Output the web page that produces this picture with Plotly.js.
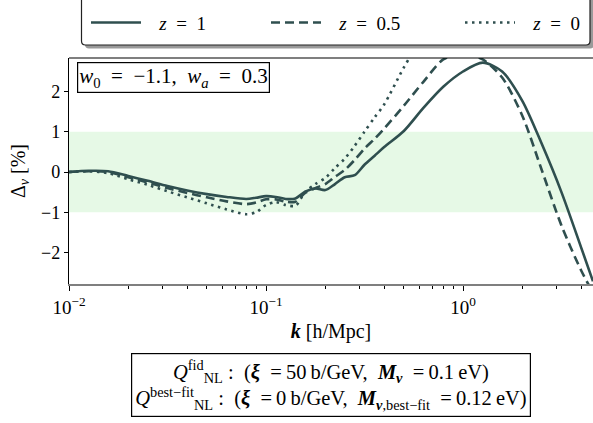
<!DOCTYPE html>
<html>
<head>
<meta charset="utf-8">
<script src="https://cdn.plot.ly/plotly-3.0.1.min.js"></script>
<style>html,body{margin:0;padding:0;background:#fff}#chart{width:593px;height:423px}</style>
</head>
<body>
<div id="chart"></div>
<script>
// ---- data ----
const k = [0.01, 0.0126, 0.0158, 0.02, 0.0251, 0.0316, 0.0398, 0.0501, 0.0631, 0.0794, 0.0891,
           0.1, 0.112, 0.126, 0.141, 0.158, 0.178, 0.2, 0.224, 0.251, 0.282, 0.316, 0.355, 0.398,
           0.501, 0.631, 0.794, 1.0, 1.26, 1.58, 2.0, 2.51, 3.16, 3.98, 4.57];
const delta_z1 = [0.0, 0.03, 0.02, -0.1, -0.22, -0.35, -0.46, -0.55, -0.62, -0.67, -0.64,
                  -0.6, -0.62, -0.67, -0.66, -0.49, -0.41, -0.45, -0.3, -0.13, -0.08, 0.18, 0.4, 0.62,
                  1.02, 1.6, 2.12, 2.5, 2.72, 2.5, 1.77, 0.7, -0.5, -1.88, -2.72];
const delta_z05 = [0.0, 0.02, 0.0, -0.13, -0.26, -0.4, -0.52, -0.63, -0.73, -0.8, -0.76,
                   -0.68, -0.68, -0.74, -0.74, -0.52, -0.4, -0.3, -0.12, 0.05, 0.3, 0.58, 0.82, 1.08,
                   1.65, 2.25, 2.8, 2.95, 2.8, 2.35, 1.4, 0.05, -1.33, -2.45, -3.0];
const k_z0 = k.slice(0, 27);
const delta_z0 = [0.0, 0.02, -0.03, -0.18, -0.32, -0.48, -0.63, -0.78, -0.93, -1.05, -1.0,
                  -0.82, -0.75, -0.82, -0.84, -0.5, -0.3, -0.15, 0.1, 0.33, 0.65, 1.0, 1.35, 1.68,
                  2.6, 3.4, 4.0];
const seriesNames = ['<i>z</i>\u2002=\u20021', '<i>z</i>\u2002=\u20020.5', '<i>z</i>\u2002=\u20020'];
const xTickVals = [0.01, 0.1, 1];
const xTickText = ['10<sup>−2</sup>', '10<sup>−1</sup>', '10<sup>0</sup>'];
const yTickVals = [-2, -1, 0, 1, 2];
const yTickText = ['−2', '−1', '0', '1', '2'];
const bandLow = -1, bandHigh = 1;

// ---- layout helpers (pixel -> paper) ----
const W = 593, H = 423, L = 69, T = 58, B = 284;
const PW = W - L, PH = B - T;
const px = x => (x - L) / PW;
const py = y => (B - y) / PH;
function roundRect(x0, y0, x1, y1, r) {
  const rx = r / PW, ry = r / PH;
  const a = px(x0), b = px(x1), c = py(y1), d = py(y0); // c bottom, d top
  return `M${a + rx},${c} L${b - rx},${c} Q${b},${c} ${b},${c + ry} L${b},${d - ry} Q${b},${d} ${b - rx},${d} ` +
         `L${a + rx},${d} Q${a},${d} ${a},${d - ry} L${a},${c + ry} Q${a},${c} ${a + rx},${c} Z`;
}

const col = '#2f4f4f';
const FONT = 'Liberation Serif, serif';
const GAP = '\u2002\u2009';

const traces = [
  {x: k, y: delta_z1, name: GAP + seriesNames[0], mode: 'lines', line: {color: col, width: 2.6, shape: 'spline', smoothing: 0.8}, legend: 'legend'},
  {x: k, y: delta_z05, name: GAP + seriesNames[1], mode: 'lines', line: {color: col, width: 2.6, dash: '9px,5px', shape: 'spline', smoothing: 0.8}, legend: 'legend2'},
  {x: k_z0, y: delta_z0, name: GAP + seriesNames[2], mode: 'lines', line: {color: col, width: 2.6, dash: '2.5px,4.5px', shape: 'spline', smoothing: 0.8}, legend: 'legend3'}
];

function leg(xpx) {
  return {orientation: 'h', xref: 'container', yref: 'container', x: xpx / W, y: 1 - 22.7 / H,
          xanchor: 'left', yanchor: 'middle', bgcolor: 'rgba(0,0,0,0)', borderwidth: 0,
          itemwidth: 50, font: {family: FONT, size: 19, color: '#000'}};
}

const layout = {
  width: W, height: H,
  margin: {l: L, r: 0, t: T, b: H - B, pad: 0},
  paper_bgcolor: '#fff', plot_bgcolor: 'rgba(0,0,0,0)',
  showlegend: true,
  legend: leg(86), legend2: leg(266), legend3: leg(460),
  xaxis: {
    type: 'log', range: [-2, (W - L) / 197 - 2],
    tickvals: xTickVals, ticktext: xTickText,
    ticks: 'outside', ticklen: 5, tickwidth: 1, tickcolor: '#000',
    showline: true, linecolor: '#7f7f7f', linewidth: 2,
    showgrid: false, zeroline: false,
    minor: {ticks: 'outside', ticklen: 3, tickwidth: 1, tickcolor: '#000', showgrid: false, dtick: 'D1'},
    tickfont: {family: FONT, size: 19, color: '#000'},
    title: {text: '<b><i>k</i></b> [h/Mpc]', font: {family: FONT, size: 20, color: '#000'}, standoff: 7}
  },
  yaxis: {
    range: [-(B - 172) / 40.2, (172 - T) / 40.2],
    tickvals: yTickVals, ticktext: yTickText,
    ticks: 'outside', ticklen: 4, tickwidth: 1, tickcolor: '#000',
    showline: true, linecolor: '#000', linewidth: 1.2,
    showgrid: false, zeroline: false,
    tickfont: {family: FONT, size: 18, color: '#000'},
    title: {text: 'Δ<sub><i>ν</i></sub> [%]', font: {family: FONT, size: 20, color: '#000'}, standoff: 10}
  },
  shapes: [
    {type: 'rect', xref: 'paper', yref: 'y', x0: 0, x1: 1, y0: bandLow, y1: bandHigh,
     fillcolor: '#e6f9e6', line: {width: 0}, layer: 'below'},
    {type: 'line', xref: 'paper', yref: 'paper', x0: 0, x1: 1, y0: 1, y1: 1, line: {color: '#000', width: 1.2}},
    {type: 'path', xref: 'paper', yref: 'paper', path: roundRect(85, -3, 594, 48.5, 4), fillcolor: '#9a9a9a', line: {width: 0}},
    {type: 'path', xref: 'paper', yref: 'paper', path: roundRect(81.5, -6, 590, 45, 4), fillcolor: '#fff', line: {color: '#222', width: 1.2}}
  ],
  annotations: [
    {xref: 'paper', yref: 'paper', x: px(76.5), y: py(61.5), xanchor: 'left', yanchor: 'top',
     text: '<i>w</i><sub>0</sub>\u2002=\u2002−1.1,\u2002<i>w<sub>a</sub></i>\u2002=\u20020.3', showarrow: false,
     font: {family: FONT, size: 21, color: '#000'}, bgcolor: '#fff', bordercolor: '#000', borderwidth: 1.2, borderpad: 1},
    {xref: 'paper', yref: 'paper', x: px(331), y: py(384.5), xanchor: 'center', yanchor: 'middle',
     text: '<i>Q</i><sup>fid</sup><sub>NL</sub> :\u2002(<b><i>ξ</i></b>\u2002=\u200950\u2009b/GeV,\u2002<b><i>M<sub>ν</sub></i></b>\u2002=\u20090.1\u2009eV)<br>' +
           '<i>Q</i><sup>best−fit</sup><sub>NL</sub> :\u2002(<b><i>ξ</i></b>\u2002=\u20090\u2009b/GeV,\u2002<b><i>M</i></b><sub><b><i>ν</i></b>,best−fit</sub>\u2002=\u20090.12\u2009eV)',
     showarrow: false, align: 'center',
     font: {family: FONT, size: 20.5, color: '#000'}, bgcolor: '#fff', bordercolor: '#000', borderwidth: 1.2, borderpad: 3}
  ]
};

Plotly.newPlot('chart', traces, layout, {displayModeBar: false, staticPlot: true});
</script>
</body>
</html>
